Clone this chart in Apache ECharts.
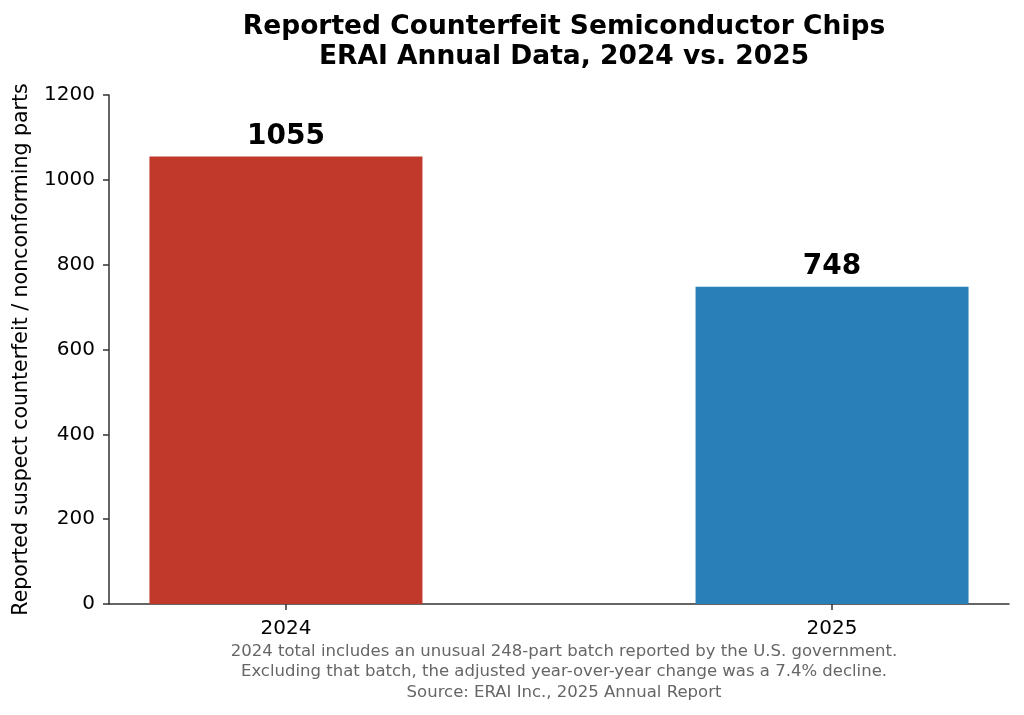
<!DOCTYPE html>
<html style="height: 100%">
<head>
    <meta charset="utf-8">
    <script src="https://cdn.jsdelivr.net/npm/echarts@6/dist/echarts.min.js"></script>
</head>
<body style="height: 100%; margin: 0; background: #fff">
    <div id="main" style="width: 1024px; height: 715px"></div>
    <script type="text/javascript">
        // data
        var years = ['2024', '2025'];
        var counts = [1055, 748];
        var barColors = ['#c0392b', '#2980b9'];
        var yTicks = [0, 200, 400, 600, 800, 1000, 1200];

        var myChart = echarts.init(document.getElementById('main'));
        var font = 'DejaVu Sans';
        var axisColor = '#333';

        var barData = [];
        for (var i = 0; i < years.length; i++) {
            barData.push({
                value: [i, counts[i]],
                itemStyle: { color: barColors[i] }
            });
        }

        var option = {
            animation: false,
            textStyle: { fontFamily: font },
            title: [{
                text: 'Reported Counterfeit Semiconductor Chips\nERAI Annual Data, 2024 vs. 2025',
                left: 559,
                top: 7,
                textAlign: 'center',
                textStyle: {
                    fontFamily: font,
                    fontSize: 26.5,
                    fontWeight: 'bold',
                    color: '#000',
                    lineHeight: 30
                }
            }, {
                text: '2024 total includes an unusual 248-part batch reported by the U.S. government.\n' +
                    'Excluding that batch, the adjusted year-over-year change was a 7.4% decline.\n' +
                    'Source: ERAI Inc., 2025 Annual Report',
                left: 559,
                top: 636,
                textAlign: 'center',
                textStyle: {
                    fontFamily: font,
                    fontSize: 16.5,
                    fontWeight: 'normal',
                    color: '#666',
                    lineHeight: 20.5
                }
            }],
            grid: {
                left: 109,
                right: 15,
                top: 95,
                bottom: 111
            },
            xAxis: {
                type: 'value',
                min: -0.324,
                max: 1.324,
                splitLine: { show: false },
                axisLine: { show: true, onZero: false, lineStyle: { color: axisColor, width: 1.5 } },
                axisTick: {
                    show: true,
                    customValues: [0, 1],
                    length: 6,
                    lineStyle: { color: axisColor, width: 1.5 }
                },
                axisLabel: {
                    customValues: [0, 1],
                    formatter: function (v) { return years[Math.round(v)]; },
                    color: '#000',
                    fontSize: 20,
                    margin: 15
                }
            },
            yAxis: {
                type: 'value',
                min: 0,
                max: 1200,
                interval: 200,
                name: 'Reported suspect counterfeit / nonconforming parts',
                nameLocation: 'middle',
                nameGap: 77,
                nameTextStyle: { color: '#000', fontSize: 20.5, fontFamily: font },
                splitLine: { show: false },
                axisLine: { show: true, onZero: false, lineStyle: { color: axisColor, width: 1.5 } },
                axisTick: { show: true, length: 6, lineStyle: { color: axisColor, width: 1.5 } },
                axisLabel: {
                    color: '#000',
                    fontSize: 20,
                    margin: 14,
                    formatter: function (v) { return String(v); }
                }
            },
            series: [{
                type: 'bar',
                data: barData,
                barWidth: 273,
                label: {
                    show: true,
                    position: 'top',
                    distance: 6,
                    color: '#000',
                    fontSize: 28,
                    fontWeight: 'bold',
                    fontFamily: font
                }
            }]
        };

        myChart.setOption(option);
    </script>
</body>
</html>
